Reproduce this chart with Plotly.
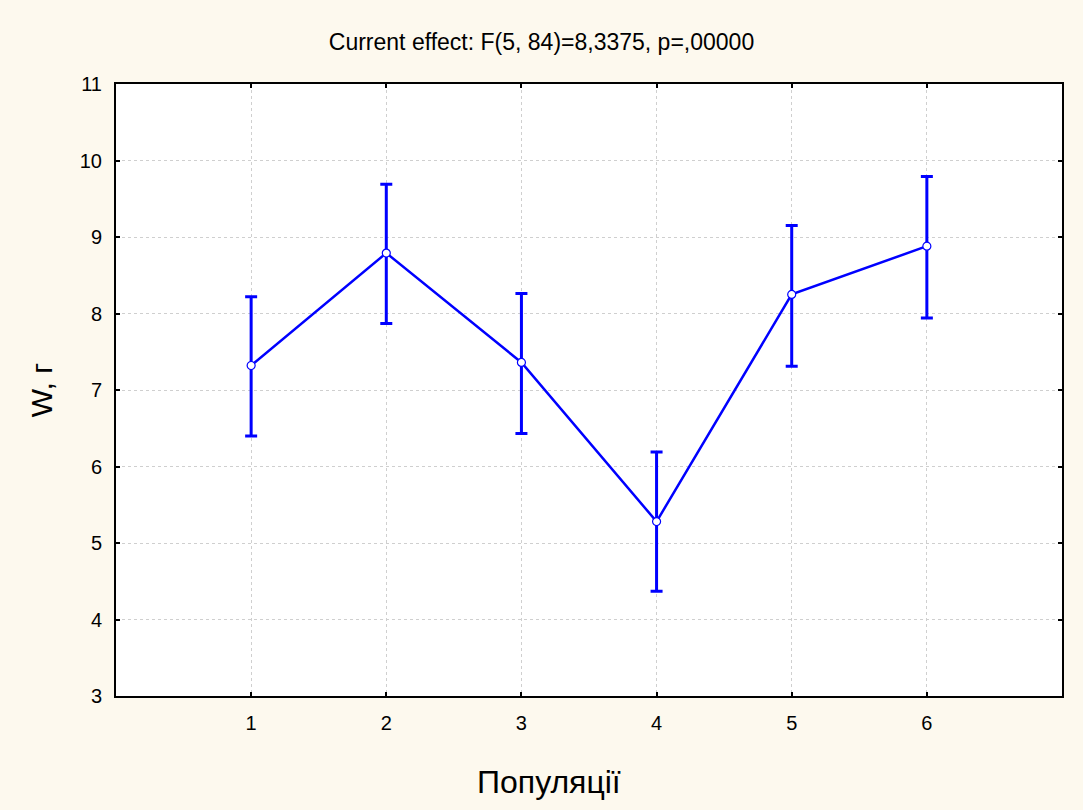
import plotly.graph_objects as go

populations = [1, 2, 3, 4, 5, 6]
means = [7.32, 8.79, 7.36, 5.28, 8.25, 8.88]
upper = [8.22, 9.69, 8.26, 6.19, 9.15, 9.79]
lower = [6.40, 7.87, 6.43, 4.37, 7.31, 7.94]

err_plus = [u - m for u, m in zip(upper, means)]
err_minus = [m - l for m, l in zip(means, lower)]

FONT = "Liberation Sans, Arial, sans-serif"

fig = go.Figure()
fig.add_trace(go.Scatter(
    x=populations, y=means, mode="lines+markers",
    line=dict(color="#0000FF", width=2.5),
    marker=dict(symbol="circle", size=8, color="white", line=dict(color="#0000FF", width=1.2)),
    error_y=dict(type="data", symmetric=False, array=err_plus, arrayminus=err_minus,
                 color="#0000FF", thickness=3, width=6),
    showlegend=False,
))

axis_common = dict(
    showline=True, linecolor="black", linewidth=2, mirror="ticks",
    ticks="inside", ticklen=4, tickwidth=2, tickcolor="black",
    showgrid=True, gridcolor="#CFCFCF", griddash="3px,3px", gridwidth=1,
    zeroline=False, tickfont=dict(family=FONT, size=20, color="black"),
    ticklabelstandoff=8,
)

fig.update_layout(
    width=1083, height=810,
    paper_bgcolor="#FDF9EE", plot_bgcolor="white",
    margin=dict(l=116, r=21, t=84, b=114),
    title=dict(text="Current effect: F(5, 84)=8,3375, p=,00000", x=0.5, xanchor="center",
               y=0.948, yanchor="middle",
               font=dict(family=FONT, size=23, color="black")),
    xaxis=dict(range=[0, 7], tickvals=populations, ticktext=[str(p) for p in populations],
               **axis_common),
    yaxis=dict(range=[3, 11], dtick=1,
               title=dict(text="W, г", font=dict(family=FONT, size=30, color="black"), standoff=18),
               **axis_common),
    annotations=[dict(text="Популяції", xref="paper", yref="paper",
                      x=(549 - 116) / 946, y=-(782 - 696) / 612,
                      xanchor="center", yanchor="middle", showarrow=False,
                      font=dict(family=FONT, size=32, color="black"))],
)

fig.write_html("out.html")
